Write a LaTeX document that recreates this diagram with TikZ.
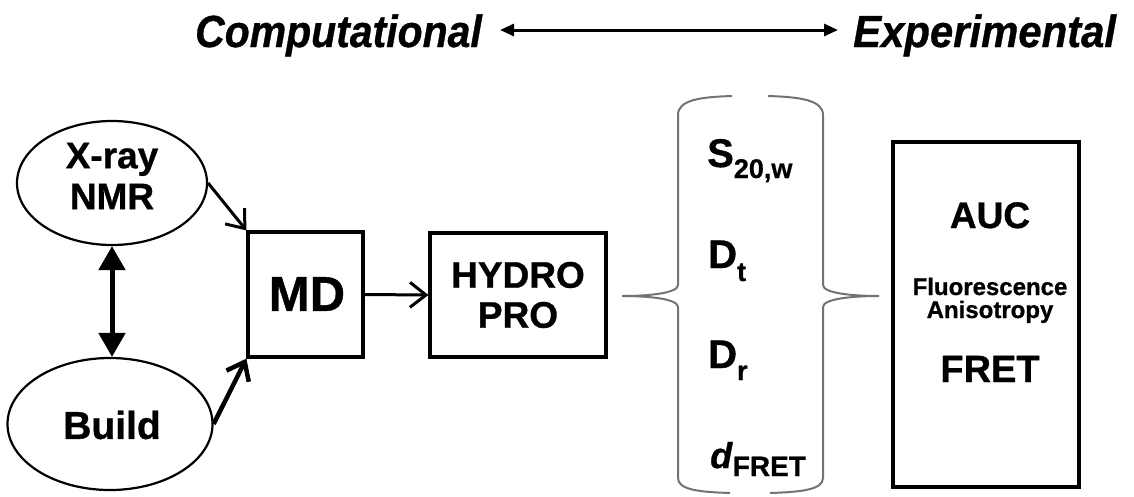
\documentclass[tikz,border=0pt]{standalone}
\usepackage{fontspec}
\setmainfont{Liberation Sans}[BoldFeatures={FakeBold=0.8},BoldItalicFeatures={FakeBold=0.8}]
\usetikzlibrary{shapes.geometric,arrows.meta}
\begin{document}
\begin{tikzpicture}[x=1pt,y=-1pt,
  boxnode/.style={draw,line width=3.2pt,inner sep=0pt},
  ell/.style={draw,ellipse,line width=2.2pt,inner sep=0pt},
  bracestyle/.style={draw=black!55,line width=2pt},
  lbl/.style={inner sep=0pt,font=\fontsize{#1}{#1}\selectfont\bfseries},
  openarrow/.style={-{Straight Barb[length=16pt,width=25pt]}},
]
\useasboundingbox (0,0) rectangle (1134,496);

% title
\node[lbl=45, anchor=base east] (comp) at (482,47) {\scalebox{0.91}[1]{\itshape Computational}};
\node[lbl=45, anchor=base west] (exp) at (853,47) {\scalebox{0.93}[1]{\itshape Experimental}};
\coordinate (tl) at (500,30);
\coordinate (tr) at (838,30);
\draw[line width=3pt, {Triangle[length=14pt,width=12pt]}-{Triangle[length=14pt,width=12pt]}] (tl) -- (tr);

% ellipses
\node[ell, minimum width=190pt, minimum height=124pt] (xray) at (112,183) {};
\node[lbl=37, align=center, font=\fontsize{37}{41}\selectfont\bfseries] (xraytxt) at (112,176) {X-ray\\NMR};
\node[ell, minimum width=205pt, minimum height=132pt] (build) at (110,424) {};
\node[lbl=39] (buildtxt) at (112,425) {Build};

% boxes
\node[boxnode, minimum width=115pt, minimum height=125pt] (md) at (305.5,294.5) {};
\node[lbl=49] (mdtxt) at (307,294) {MD};
\node[boxnode, minimum width=176pt, minimum height=124pt] (hydro) at (518,295) {};
\node[lbl=37, align=center, font=\fontsize{37}{40}\selectfont\bfseries] (hydrotxt) at (518,295) {HYDRO\\PRO};
\node[boxnode, minimum width=186pt, minimum height=345pt] (exbox) at (986,314.5) {};

% arrows
\draw[line width=5pt, {Triangle[length=24pt,width=26pt]}-{Triangle[length=24pt,width=26pt]}] (xray.south) -- (xray.south |- build.north);
\draw[line width=3pt, openarrow] (xray.east) -- (md.north west);
\draw[line width=4.5pt, openarrow] (build.east) -- (md.south west);
\draw[line width=3pt, openarrow] (md.east) -- (hydro.west);

% braces
\draw[bracestyle] (732,96) .. controls (700,97) and (678,100) .. (678,115)
  -- (678,285) .. controls (678,293) and (650,296) .. (622,296)
  .. controls (650,296) and (678,299) .. (678,307)
  -- (678,478) .. controls (678,490) and (700,492) .. (730,493);
\draw[bracestyle] (768,96) .. controls (800,97) and (823,100) .. (823,115)
  -- (823,285) .. controls (823,293) and (851,296) .. (879,296)
  .. controls (851,296) and (823,299) .. (823,307)
  -- (823,478) .. controls (823,490) and (800,492) .. (770,493);

% parameters
\node[lbl=40, anchor=base west] (s20) at (707,167) {S\raisebox{-11pt}{\fontsize{27}{27}\selectfont 20,w}};
\node[lbl=40, anchor=base west] (dt) at (708,268) {D\raisebox{-13pt}{\fontsize{27}{27}\selectfont t}};
\node[lbl=40, anchor=base west] (dr) at (708,368) {D\raisebox{-12pt}{\fontsize{27}{27}\selectfont r}};
\node[lbl=36, anchor=base west] (dfret) at (710,468) {\textit{d}\raisebox{-8pt}{\fontsize{28}{28}\selectfont FRET}};

% experimental box text
\node[lbl=37, anchor=base] (auc) at (990,228) {AUC};
\node[lbl=24, anchor=base] (fluo) at (990,295) {Fluorescence};
\node[lbl=24, anchor=base] (aniso) at (990,318) {Anisotropy};
\node[lbl=38, anchor=base] (fret) at (990,382) {FRET};
\end{tikzpicture}
\end{document}
